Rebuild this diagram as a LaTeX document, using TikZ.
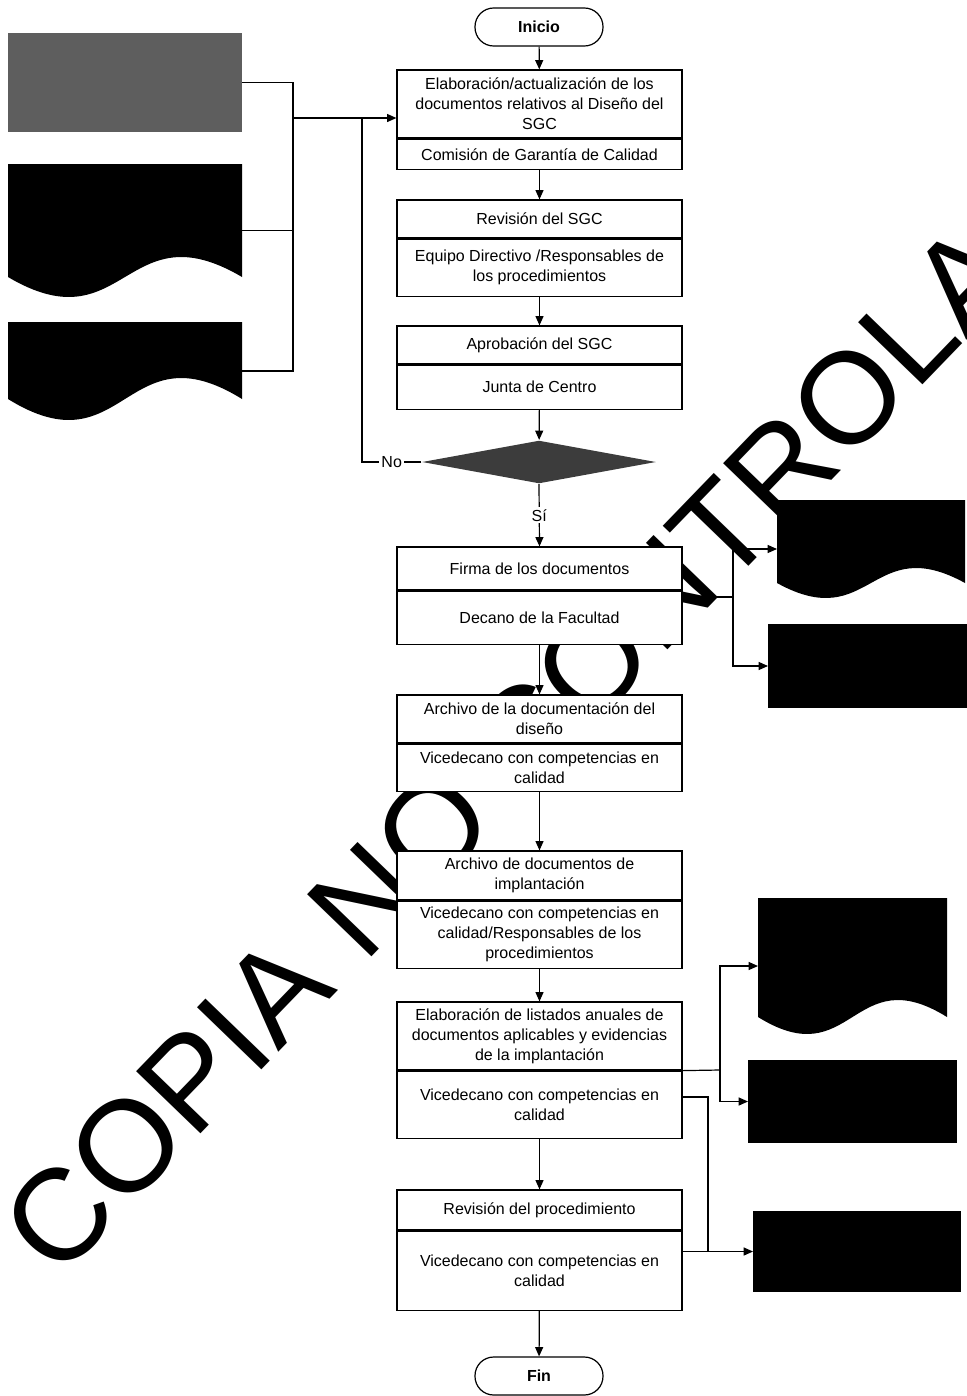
\documentclass[tikz,border=0pt]{standalone}
\usepackage{fontspec}
\setmainfont{Liberation Sans}
\usetikzlibrary{positioning, arrows.meta, calc, shapes.geometric}
\definecolor{redact}{HTML}{000000}
\definecolor{scanGrey}{HTML}{5e5e5e}
\definecolor{decisionFill}{HTML}{3c3c3c}
\newcommand{\wavedoc}[2]{\fill[redact] (#1.north west) -- (#1.north east) -- ($(#1.south east)+(0,-#2)$) .. controls ($(#1.south)+(0,-4.46*#2)$) and ($(#1.south)+(0,2.46*#2)$) .. ($(#1.south west)+(0,-#2)$) -- cycle;}

\begin{document}
\begin{tikzpicture}[x=0.75pt,y=-0.75pt,line width=0.9pt,ttl/.style={draw, fill=white, minimum width=213.75pt, align=center, inner sep=2pt, font=\fontsize{12}{15}\selectfont},resp/.style={ttl},term/.style={draw, fill=white, rounded corners=14pt, minimum width=96pt, minimum height=28.5pt, font=\fontsize{12}{15}\selectfont\bfseries},decision/.style={diamond, fill=decisionFill, minimum width=175.5pt, minimum height=32.25pt, aspect=5.4, inner sep=0pt},docbox/.style={inner sep=0pt, outer sep=0pt},redbox/.style={docbox, fill=redact},midlbl/.style={fill=white, inner sep=1.5pt, font=\fontsize{12}{15}\selectfont},arr/.style={-{Triangle[length=7pt,width=6pt]}},wmark/.style={anchor=base, rotate=46, inner sep=0pt, font=\fontsize{97.5}{100}\selectfont}]
\useasboundingbox (0,0) rectangle (967,1396);
\clip (0,0) rectangle (967,1396);
% watermark behind everything
\node[wmark] (wm) at (605,715) {COPIA NO CONTROLADA};
% main column
\node[term] (ini) at (539,27) {Inicio};
\node[ttl, minimum height=51pt] (b1t) at (539.5,104) {Elaboración/actualización de los\\documentos relativos al Diseño del\\SGC};
\node[resp, minimum height=22.5pt, below=0pt of b1t] (b1r) {Comisión de Garantía de Calidad};
\node[ttl, minimum height=28.5pt] (b2t) at (539.5,219) {Revisión del SGC};
\node[resp, minimum height=42.75pt, below=0pt of b2t] (b2r) {Equipo Directivo /Responsables de\\los procedimientos};
\node[ttl, minimum height=28.5pt] (b3t) at (539.5,345) {Aprobación del SGC};
\node[resp, minimum height=33pt, below=0pt of b3t] (b3r) {Junta de Centro};
\node[decision] (dia) at (539,462) {};
\node[ttl, minimum height=32.25pt] (b4t) at (539.5,568.5) {Firma de los documentos};
\node[resp, minimum height=39.75pt, below=0pt of b4t] (b4r) {Decano de la Facultad};
\node[ttl, minimum height=36pt] (b5t) at (539.5,719) {Archivo de la documentación del\\diseño};
\node[resp, minimum height=35.25pt, below=0pt of b5t] (b5r) {Vicedecano con competencias en\\calidad};
\node[ttl, minimum height=36.75pt] (b6t) at (539.5,875.5) {Archivo de documentos de\\implantación};
\node[resp, minimum height=50.25pt, below=0pt of b6t] (b6r) {Vicedecano con competencias en\\calidad/Responsables de los\\procedimientos};
\node[ttl, minimum height=51pt] (b7t) at (539.5,1036) {Elaboración de listados anuales de\\documentos aplicables y evidencias\\de la implantación};
\node[resp, minimum height=50.25pt, below=0pt of b7t] (b7r) {Vicedecano con competencias en\\calidad};
\node[ttl, minimum height=30pt] (b8t) at (539.5,1210) {Revisión del procedimiento};
\node[resp, minimum height=59.25pt, below=0pt of b8t] (b8r) {Vicedecano con competencias en\\calidad};
\node[term] (fin) at (539,1376) {Fin};
% input documents (left)
\node[docbox, fill=scanGrey, minimum width=175.5pt, minimum height=74.25pt] (d1) at (125,82.5) {};
\node[docbox, minimum width=175.5pt, minimum height=99.75pt] (d2) at (125,230.5) {}; \wavedoc{d2}{20}
\node[docbox, minimum width=175.5pt, minimum height=73.5pt] (d3) at (125,371) {}; \wavedoc{d3}{21}
% output documents (right)
\node[docbox, minimum width=141pt, minimum height=73.5pt] (d4) at (871,549) {}; \wavedoc{d4}{15}
\node[redbox, minimum width=149.25pt, minimum height=63pt] (r5) at (867.5,666) {};
\node[docbox, minimum width=141.75pt, minimum height=102pt] (d6) at (852.5,966) {}; \wavedoc{d6}{17}
\node[redbox, minimum width=156.75pt, minimum height=62.25pt] (r7) at (852.5,1101.5) {};
\node[redbox, minimum width=156pt, minimum height=60.75pt] (r8) at (857,1251.5) {};
% junctions
\coordinate (j1) at (293,118); \coordinate (j2) at (362,118); \coordinate (j3) at (733,597);
\coordinate (j4) at (720,1070); \coordinate (j5) at (708,1097);
% main flow
\draw[arr] (ini)--(b1t); \draw[arr] (b1r)--(b2t); \draw[arr] (b2r)--(b3t); \draw[arr] (b3r)--(dia);
\draw[arr] (dia.south) -- node[midlbl] {Sí} (b4t.north);
\draw[arr] (b4r)--(b5t); \draw[arr] (b5r)--(b6t); \draw[arr] (b6r)--(b7t); \draw[arr] (b7r)--(b8t); \draw[arr] (b8r)--(fin);
% inputs and loop back
\draw (d1.east) -| (j1); \draw (d3.east) -| (j1); \draw (d2.east) -- (j1 |- d2.east);
\draw[arr] (j1) -- (j1 -| b1t.west);
\draw (dia.west) -- node[midlbl] {No} (dia.west -| j2) -- (j2);
% outputs
\draw (j3 -| b4r.east) -- (j3); \draw[arr] (j3) |- (d4.west); \draw[arr] (j3) |- (r5.west);
\draw (b7t.south east) -- (j4); \draw[arr] (j4) |- (d6.west); \draw[arr] (j4) |- (r7.west);
\draw (j5 -| b7r.east) -- (j5) -- (j5 |- r8.west); \draw[arr] (r8.west -| b8r.east) -- (r8.west);
\end{tikzpicture}
\end{document}
